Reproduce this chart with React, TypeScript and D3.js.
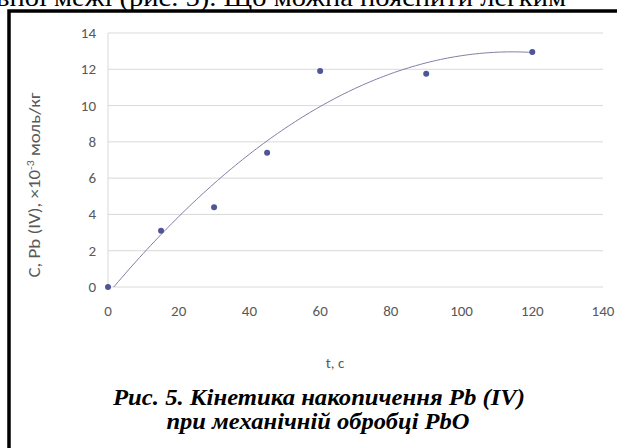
import React from 'react';
import * as d3 from 'd3';

const times = [0, 15, 30, 45, 60, 90, 120];
const conc = [0, 3.1, 4.4, 7.4, 11.9, 11.75, 12.95];
const xTicks = [0, 20, 40, 60, 80, 100, 120, 140];
const yTicks = [0, 2, 4, 6, 8, 10, 12, 14];

// поліноміальний тренд 2-го порядку (як у Excel), метод найменших квадратів
function quadFit(xs: number[], ys: number[]) {
  const s = (f: (x: number, y: number) => number) => d3.sum(xs, (x, i) => f(x, ys[i]));
  const n = xs.length;
  const sx = s(x => x), sx2 = s(x => x * x), sx3 = s(x => x ** 3), sx4 = s(x => x ** 4);
  const sy = s((x, y) => y), sxy = s((x, y) => x * y), sx2y = s((x, y) => x * x * y);
  const m = [
    [n, sx, sx2, sy],
    [sx, sx2, sx3, sxy],
    [sx2, sx3, sx4, sx2y],
  ];
  for (let i = 0; i < 3; i++) {
    for (let k = i + 1; k < 3; k++) {
      const f = m[k][i] / m[i][i];
      for (let j = i; j < 4; j++) m[k][j] -= f * m[i][j];
    }
  }
  const c = [0, 0, 0];
  for (let i = 2; i >= 0; i--) {
    let v = m[i][3];
    for (let j = i + 1; j < 3; j++) v -= m[i][j] * c[j];
    c[i] = v / m[i][i];
  }
  return (x: number) => c[0] + c[1] * x + c[2] * x * x;
}

export default function App() {
  const width = 617;
  const height = 448;
  const plot = { left: 108, right: 603, top: 33, bottom: 287 };

  const x = d3.scaleLinear().domain([0, 140]).range([plot.left, plot.right]);
  const y = d3.scaleLinear().domain([0, 14]).range([plot.bottom, plot.top]);

  const trend = quadFit(times, conc);
  const trendPts = d3.range(0, 120.01, 1).map(t => [t, trend(t)] as [number, number]);
  const line = d3.line<[number, number]>().x(d => x(d[0])).y(d => y(d[1])).curve(d3.curveMonotoneX);

  const axisStyle = { fontFamily: 'Carlito, Calibri, Lato, sans-serif', fontSize: 15, fill: '#595959' };
  const serifStyle = { fontFamily: "'Times New Roman', 'Liberation Serif', 'Noto Serif', 'DejaVu Serif', serif" };
  const captionStyle = { ...serifStyle, fontSize: 23, fontWeight: 700, fontStyle: 'italic' as const, fill: '#000' };

  return (
    <svg width={width} height={height} style={{ position: 'absolute', left: 0, top: 0, background: '#fff' }}>
      <defs>
        <clipPath id="plotClip">
          <rect x={plot.left} y={plot.top} width={plot.right - plot.left} height={plot.bottom - plot.top} />
        </clipPath>
      </defs>

      {/* обрізаний рядок тексту зверху */}
      <text x={-4} y={6} style={{ ...serifStyle, fontSize: 25, fill: '#000' }} textLength={570} lengthAdjust="spacingAndGlyphs">
        вної межі (рис. 5). Що можна пояснити легким
      </text>

      {/* рамка */}
      <rect x={9} y={11} width={width + 20} height={height + 20} fill="none" stroke="#000" strokeWidth={3.5} />

      {/* сітка */}
      {yTicks.map(t => (
        <line key={t} x1={plot.left} x2={plot.right} y1={y(t)} y2={y(t)} stroke="#d9d9d9" strokeWidth={1} />
      ))}
      <line x1={plot.left} x2={plot.left} y1={plot.top} y2={plot.bottom} stroke="#d9d9d9" strokeWidth={1} />

      {/* підписи осей */}
      {yTicks.map(t => (
        <text key={t} x={96} y={y(t) + 5} textAnchor="end" style={axisStyle}>
          {t}
        </text>
      ))}
      {xTicks.map(t => (
        <text key={t} x={x(t)} y={316} textAnchor="middle" style={axisStyle}>
          {t}
        </text>
      ))}

      <text x={335} y={368} textAnchor="middle" style={axisStyle}>
        t, c
      </text>
      <text
        transform="translate(40, 185) rotate(-90)"
        textAnchor="middle"
        style={{ ...axisStyle, fontSize: 16 }}
        textLength={185}
        lengthAdjust="spacingAndGlyphs"
      >
        С, Pb (IV), ×10<tspan dy={-6} style={{ fontSize: 10 }}>-3</tspan>
        <tspan dy={6}> моль/кг</tspan>
      </text>

      {/* лінія тренду */}
      <path d={line(trendPts) || ''} fill="none" stroke="#7f7fa6" strokeWidth={1} clipPath="url(#plotClip)" />

      {/* точки */}
      {times.map((t, i) => (
        <circle key={t} cx={x(t)} cy={y(conc[i])} r={3} fill="#4f5597" />
      ))}

      {/* підпис рисунка */}
      <text x={319} y={405} textAnchor="middle" style={captionStyle} textLength={412} lengthAdjust="spacingAndGlyphs">
        Рис. 5. Кінетика накопичення Pb (IV)
      </text>
      <text x={318} y={429} textAnchor="middle" style={captionStyle} textLength={303} lengthAdjust="spacingAndGlyphs">
        при механічній обробці PbO
      </text>
    </svg>
  );
}
